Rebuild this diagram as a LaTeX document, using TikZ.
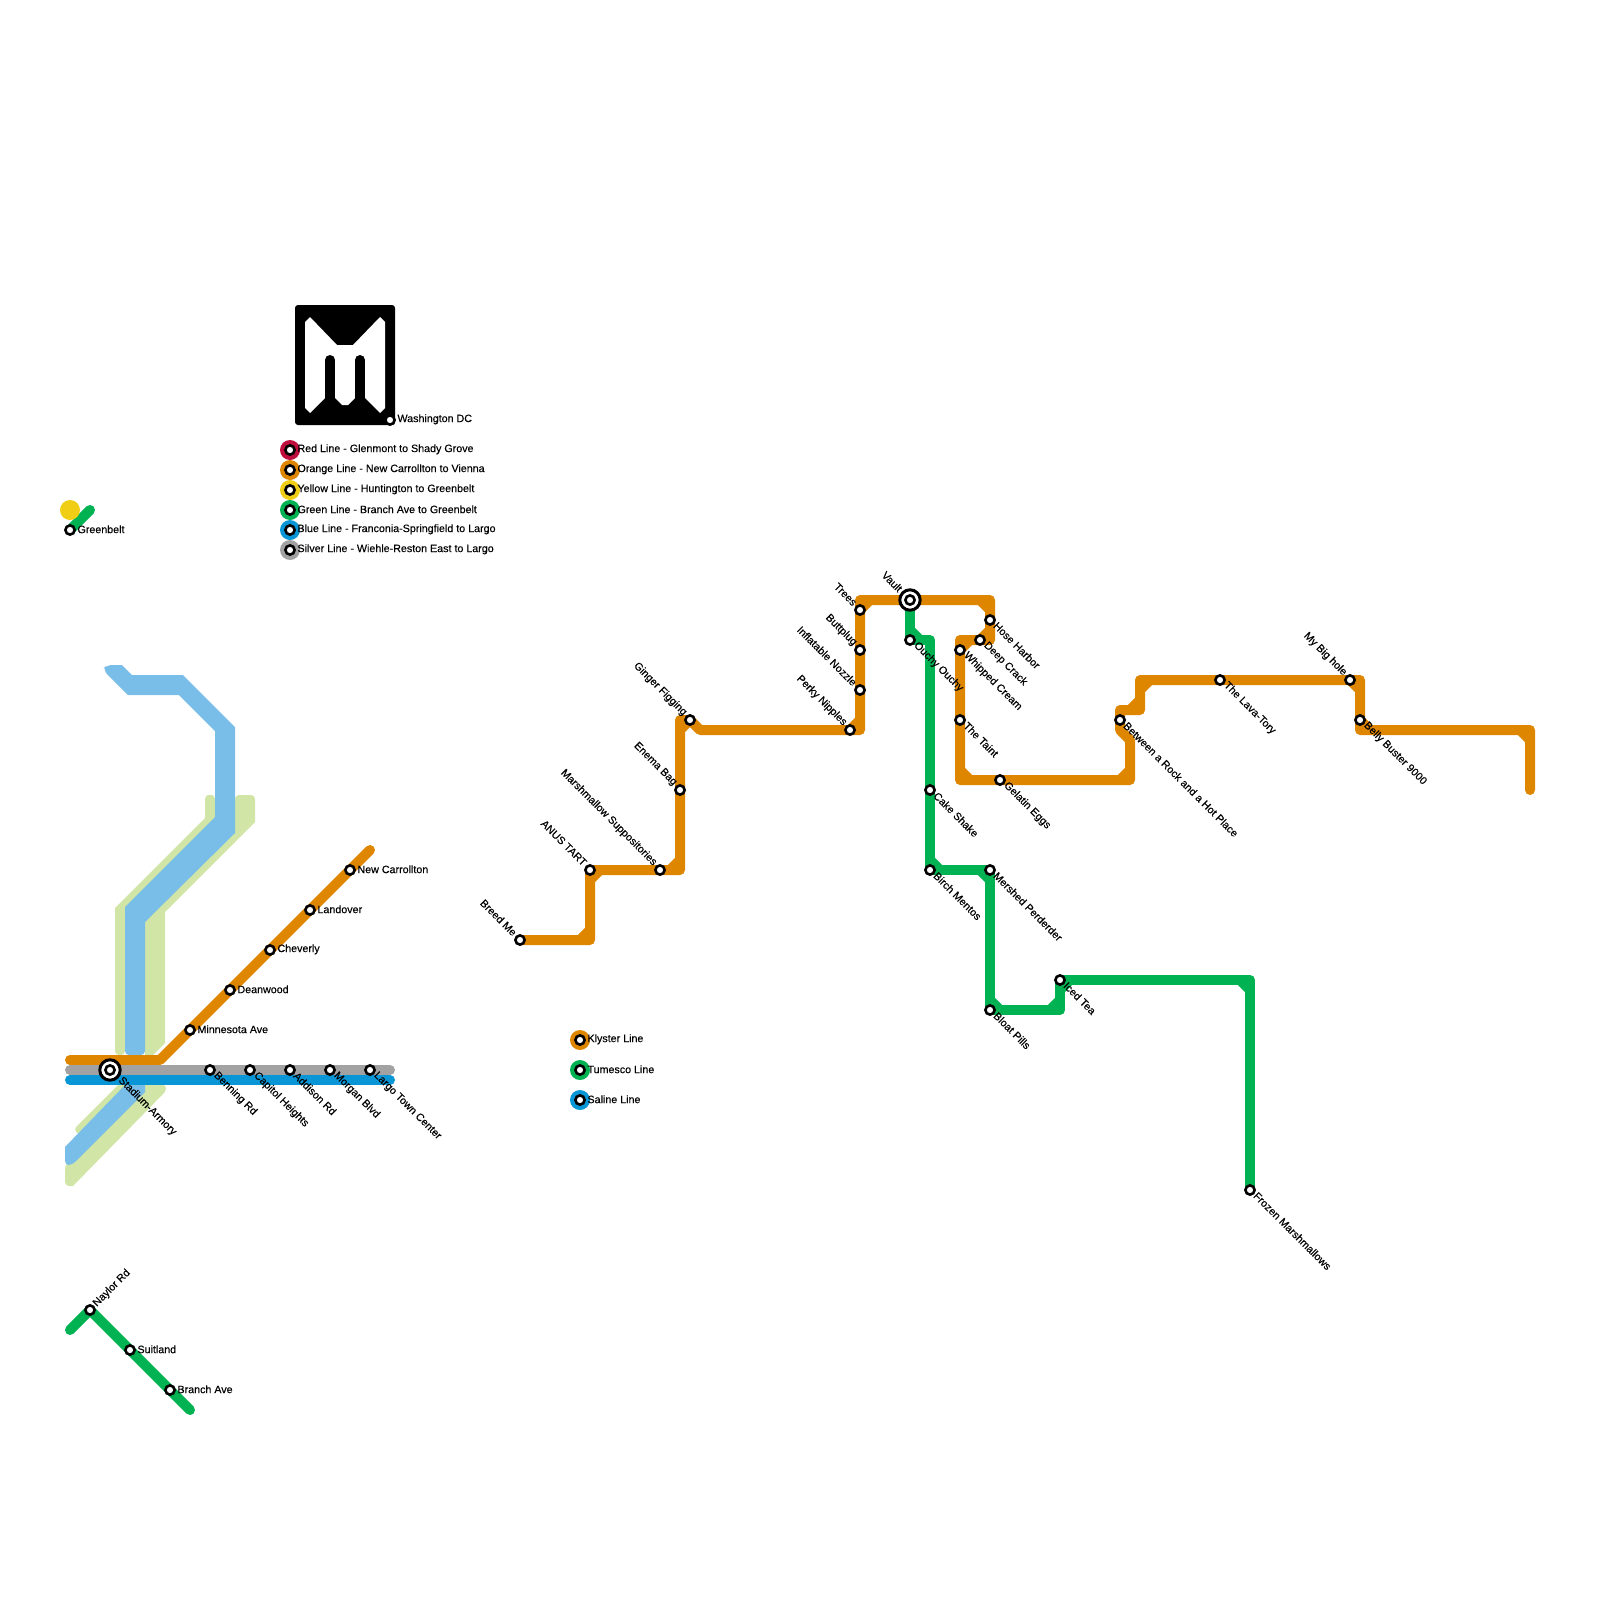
\documentclass[tikz,border=0pt]{standalone}
\usepackage{fontspec}
\setmainfont{Liberation Sans}
\newfontfamily\labfont[FakeBold=0.3]{Liberation Sans}
\pgfdeclarelayer{lines}
\pgfsetlayers{lines,main}
\definecolor{mred}{HTML}{BF0D3E}
\definecolor{morange}{HTML}{DF8600}
\definecolor{myellow}{HTML}{F0CE15}
\definecolor{mgreen}{HTML}{00B251}
\definecolor{mblue}{HTML}{0896D7}
\definecolor{msilver}{HTML}{A2A2A2}
\definecolor{lblue}{HTML}{79BDE9}
\definecolor{lgreen}{HTML}{D1E6A6}
\tikzset{
  stn/.style={circle,draw=black,fill=white,line width=2.6pt,minimum size=9.2pt,inner sep=0pt,outer sep=0pt},
  ring/.style={circle,draw=black,fill=white,line width=3pt,minimum size=20.4pt,inner sep=0pt},
  lbl/.style={inner sep=0pt,outer sep=0pt,text=black,font=\labfont\fontsize{10.7pt}{12pt}\selectfont},
  lblH/.style={lbl,anchor=west},
  lblR/.style={lbl,anchor=west,rotate=-45},
  lblL/.style={lbl,anchor=east,rotate=-45},
  lblU/.style={lbl,anchor=west,rotate=45},
  route/.style={line width=10pt,line cap=round,line join=round},
  orange/.style={route,draw=morange},
  green/.style={route,draw=mgreen},
}
\newcommand\stH[4]{\node[stn](#1) at (#2,#3){};\node[lblH](#1-l) at ([shift={(7.5,-0.7)}]#1.center){#4};}
\newcommand\stR[4]{\node[stn](#1) at (#2,#3){};\node[lblR](#1-l) at ([shift={(5.5,4)}]#1.center){#4};}
\newcommand\stL[4]{\node[stn](#1) at (#2,#3){};\node[lblL](#1-l) at ([shift={(-5,-6)}]#1.center){#4};}
\newcommand\legend[4]{\node[circle,fill=#1,minimum size=20pt,inner sep=0pt](#2-c) at (#3){};\node[stn](#2) at (#3){};\node[lblH](#2-l) at ([shift={(7.5,-0.7)}]#2.center){#4};}
\begin{document}
\begin{tikzpicture}[x=1pt,y=-1pt]
\useasboundingbox (0,0) rectangle (1600,1600);
% logo
\fill[black,rounded corners=3pt] (295,305) rectangle (395,425);
\fill[white] (305,322) -- (310,317) -- (337,345) -- (353,345) -- (380,317) -- (385,322) -- (385,408) -- (380,413) -- (365,398) -- (355,398) -- (348,405) -- (342,405) -- (335,398) -- (325,398) -- (310,413) -- (305,408) -- cycle;
\draw[black,line width=10pt,line cap=round] (330,360) -- (330,402);
\draw[black,line width=10pt,line cap=round] (360,360) -- (360,402);
\stH{dc}{390}{420}{Washington DC}
% legends
\legend{mred}{lred}{290,450}{Red Line - Glenmont to Shady Grove}
\legend{morange}{lorange}{290,470}{Orange Line - New Carrollton to Vienna}
\legend{myellow}{lyellow}{290,490}{Yellow Line - Huntington to Greenbelt}
\legend{mgreen}{lgreen}{290,510}{Green Line - Branch Ave to Greenbelt}
\legend{mblue}{lblueline}{290,530}{Blue Line - Franconia-Springfield to Largo}
\legend{msilver}{lsilver}{290,550}{Silver Line - Wiehle-Reston East to Largo}
\legend{morange}{lklyster}{580,1040}{Klyster Line}
\legend{mgreen}{ltumesco}{580,1070}{Tumesco Line}
\legend{mblue}{lsaline}{580,1100}{Saline Line}
% left stations
\node[circle,fill=myellow,minimum size=20pt,inner sep=0pt](yellowdot) at (70,510){};
\stH{greenbelt}{70}{530}{Greenbelt}
\coordinate (gbend) at (90,510);
\stH{newcarr}{350}{870}{New Carrollton}
\stH{landover}{310}{910}{Landover}
\stH{cheverly}{270}{950}{Cheverly}
\stH{deanwood}{230}{990}{Deanwood}
\stH{minnesota}{190}{1030}{Minnesota Ave}
\stR{benning}{210}{1070}{Benning Rd}
\stR{capitol}{250}{1070}{Capitol Heights}
\stR{addison}{290}{1070}{Addison Rd}
\stR{morgan}{330}{1070}{Morgan Blvd}
\stR{largo}{370}{1070}{Largo Town Center}
\node[ring](stadiumring) at (110,1070){};
\node[stn](stadium) at (110,1070){};
\node[lblR](stadium-l) at ([shift={(10,9)}]stadium.center){Stadium-Armory};
\node[stn](naylor) at (90,1310){};
\node[lblU](naylor-l) at ([shift={(5,-5)}]naylor.center){Naylor Rd};
\stH{suitland}{130}{1350}{Suitland}
\stH{branch}{170}{1390}{Branch Ave}
% orange stations
\stL{breed}{520}{940}{Breed Me}
\stL{anus}{590}{870}{ANUS TART}
\stL{marsh}{660}{870}{Marshmallow Suppositories}
\stL{enema}{680}{790}{Enema Bag}
\stL{ginger}{690}{720}{Ginger Figging}
\stL{perky}{850}{730}{Perky Nipples}
\stL{nozzle}{860}{690}{Inflatable Nozzle}
\stL{buttplug}{860}{650}{Buttplug}
\stL{trees}{860}{610}{Trees}
\node[ring](vaultring) at (910,600){};
\node[stn](vault) at (910,600){};
\node[lblL](vault-l) at ([shift={(-9.5,-10)}]vault.center){Vault};
\stR{hose}{990}{620}{Hose Harbor}
\stR{deep}{980}{640}{Deep Crack}
\stR{whipped}{960}{650}{Whipped Cream}
\stR{taint}{960}{720}{The Taint}
\stR{gelatin}{1000}{780}{Gelatin Eggs}
\stR{between}{1120}{720}{Between a Rock and a Hot Place}
\stR{lava}{1220}{680}{The Lava-Tory}
\stL{bighole}{1350}{680}{My Big hole}
\stR{belly}{1360}{720}{Belly Buster 9000}
% green stations
\stR{ouchy}{910}{640}{Ouchy Ouchy}
\stR{cake}{930}{790}{Cake Shake}
\stR{birch}{930}{870}{Birch Mentos}
\stR{mershed}{990}{870}{Mershed Perderder}
\stR{bloat}{990}{1010}{Bloat Pills}
\stR{iced}{1060}{980}{Iced Tea}
\stR{frozen}{1250}{1190}{Frozen Marshmallows}
\coordinate (oend) at (1530,790);
\coordinate (bluestart) at (70,1080);
\coordinate (blueend) at (390,1080);
\coordinate (silverstart) at (70,1070);
\coordinate (silverend) at (390,1070);
\coordinate (orangestart) at (70,1060);
\coordinate (orangebend) at (160,1060);
\coordinate (orangeend) at (370,850);
\coordinate (lowgstart) at (70,1330);
\coordinate (lowgend) at (190,1410);
\begin{pgfonlayer}{lines}
% pale shapes
\fill[lgreen] (210,795) [rounded corners=4pt] -- (215,795) [sharp corners] -- (215,835) -- (125,925) [rounded corners=4pt] -- (125,1055) -- (115,1055) [sharp corners] -- (115,908) -- (205,818) [rounded corners=4pt] -- (205,795) -- cycle;
\fill[lgreen] (245,795) [rounded corners=4pt] -- (255,795) [sharp corners] -- (255,822) -- (165,912) -- (165,1043) -- (153,1055) -- (145,1055) -- (145,900) -- (235,810) [rounded corners=4pt] -- (235,795) -- cycle;
\fill[lgreen] (130,1083) -- (120,1083) [rounded corners=3pt] -- (74,1129) -- (79,1135) [sharp corners] -- cycle;
\fill[lgreen] (140,1085) [rounded corners=3pt] -- (166,1085) -- (166,1091) [sharp corners] -- (73,1186) [rounded corners=4pt] -- (65,1186) -- (65,1165) [sharp corners] -- cycle;
\fill[lblue] (115,665) -- (122,665) -- (132,675) -- (183,675) -- (235,727) -- (235,833) -- (145,922) [rounded corners=4pt] -- (145,1055) -- (125,1055) [sharp corners] -- (125,907) -- (215,817) -- (215,731) -- (179,695) -- (128,695) [rounded corners=5pt] -- (103,670) -- (106,665) -- cycle;
\fill[lblue] (127,1083) -- (65,1147) [rounded corners=4pt] -- (65,1165) -- (72,1165) [sharp corners] -- (145,1092) -- (145,1083) -- cycle;
% left lines
\draw[orange] (orangestart) -- (orangebend) -- (orangeend);
\draw[route,draw=msilver] (silverstart) -- (silverend);
\draw[route,draw=mblue] (bluestart) -- (blueend);
\draw[green] (greenbelt.center) -- (gbend);
\draw[green] (lowgstart) -- (naylor.center) -- (lowgend);
% orange route
\draw[orange] (breed.center) -- (590,940) -- (anus.center) -- (680,870) -- (680,720) -- (ginger.center) -- (700,730) -- (860,730) -- (860,600) -- (990,600) -- (990,640) -- (960,640) -- (960,780) -- (1130,780) -- (1130,740) -- (1120,730) -- (1120,710) -- (1140,710) -- (1140,680) -- (1360,680) -- (1360,730) -- (1530,730) -- (oend);
\foreach \a/\b/\c/\d in {580/940/590/930,590/880/600/870,670/870/680/860,680/730/690/720,850/730/860/720,860/610/870/600,980/600/990/610,980/640/990/630,960/650/970/640,960/770/970/780,1120/780/1130/770,1130/710/1140/700,1140/690/1150/680,1350/680/1360/690,1520/730/1530/740,1360/720/1370/730}
  \draw[orange,line cap=butt] (\a,\b) -- (\c,\d);
% green route
\draw[green] (vault.center) -- (ouchy.center) -- (930,640) -- (birch.center) -- (mershed.center) -- (bloat.center) -- (1060,1010) -- (iced.center) -- (1250,980) -- (frozen.center);
\foreach \a/\b/\c/\d in {910/630/920/640,930/860/940/870,980/870/990/880,990/1000/1000/1010,1050/1010/1060/1000,1060/990/1070/980,1240/980/1250/990}
  \draw[green,line cap=butt] (\a,\b) -- (\c,\d);
\end{pgfonlayer}
\end{tikzpicture}
\end{document}
